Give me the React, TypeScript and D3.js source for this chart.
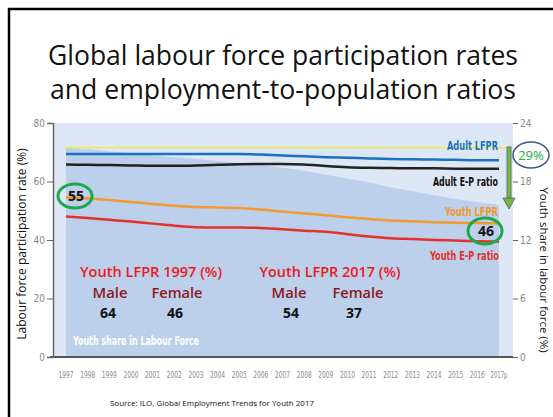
import { useEffect, useRef } from "react";
import { area, axisLeft, axisRight, curveMonotoneX, line, scaleLinear, scalePoint, select } from "d3";

const years = ["1997", "1998", "1999", "2000", "2001", "2002", "2003", "2004", "2005", "2006", "2007",
    "2008", "2009", "2010", "2011", "2012", "2013", "2014", "2015", "2016", "2017p"];
const adultLfpr = [69.4, 69.4, 69.4, 69.4, 69.4, 69.4, 69.4, 69.4, 69.4, 69.2, 68.9, 68.6, 68.3, 68.1, 67.9, 67.7, 67.6, 67.5, 67.4, 67.3, 67.3];
const adultEp = [65.8, 65.7, 65.6, 65.5, 65.4, 65.4, 65.5, 65.7, 65.9, 66.0, 66.0, 65.8, 65.3, 64.9, 64.7, 64.6, 64.5, 64.5, 64.4, 64.4, 64.4];
const youthLfpr = [54.6, 54.2, 53.7, 53.0, 52.3, 51.7, 51.3, 51.1, 50.9, 50.4, 49.7, 49.1, 48.5, 47.8, 47.2, 46.7, 46.4, 46.1, 45.9, 45.8, 45.7];
const youthEp = [48.0, 47.5, 46.9, 46.3, 45.6, 44.9, 44.4, 44.3, 44.3, 44.1, 43.7, 43.2, 42.8, 42.0, 41.2, 40.6, 40.3, 40.0, 39.8, 39.6, 39.5];
const youthShare = [21.5, 21.3, 21.1, 20.9, 20.7, 20.5, 20.3, 20.1, 19.9, 19.7, 19.4, 19.1, 18.7, 18.3, 17.9, 17.4, 17.0, 16.6, 16.2, 15.9, 15.6];
const refLevel = 71.6;
const leftTicks = [0, 20, 40, 60, 80];
const rightTicks = [0, 6, 12, 18, 24];

const narrow = "'Liberation Sans Narrow', 'DejaVu Sans Condensed', 'Liberation Sans', sans-serif";
const body = "'Open Sans', 'Noto Sans', sans-serif";

export default function App() {
    const leftRef = useRef<SVGGElement>(null);
    const rightRef = useRef<SVGGElement>(null);

    const plot = { left: 53, right: 513, top: 123, bottom: 357 };
    const x = scalePoint<string>().domain(years).range([66, 499]);
    const yL = scaleLinear().domain([0, 80]).range([plot.bottom, plot.top]);
    const yR = scaleLinear().domain([0, 24]).range([plot.bottom, plot.top]);

    const mk = (vals: number[]) =>
        line<number>().x((_, i) => x(years[i])!).y((d) => yL(d)).curve(curveMonotoneX)(vals)!;
    const shareArea = area<number>()
        .x((_, i) => x(years[i])!)
        .y0(yR(0))
        .y1((d) => yR(d))(youthShare)!;

    useEffect(() => {
        if (leftRef.current) {
            const g = select(leftRef.current);
            g.call(axisLeft(yL).tickValues(leftTicks).tickSize(6).tickPadding(2));
            g.select(".domain").attr("stroke", "#666").attr("stroke-width", 1.5);
            g.selectAll(".tick line").attr("stroke", "#666");
            g.selectAll(".tick text").attr("fill", "#888").attr("font-family", narrow).attr("font-size", 10);
        }
        if (rightRef.current) {
            const g = select(rightRef.current);
            g.call(axisRight(yR).tickValues(rightTicks).tickSize(5).tickPadding(2));
            g.select(".domain").remove();
            g.selectAll(".tick line").attr("stroke", "#666");
            g.selectAll(".tick text").attr("fill", "#888").attr("font-family", narrow).attr("font-size", 10);
        }
    }, []);

    return (
        <svg width={553} height={417} style={{ position: "absolute", left: 0, top: 0, background: "#fff" }}>
            <rect x={9} y={9} width={620} height={500} fill="none" stroke="#000" strokeWidth={2.5} />
            <text x={283} y={65} textAnchor="middle" fontFamily={body} fontSize={27} fill="#111"
                textLength={470} lengthAdjust="spacingAndGlyphs">Global labour force participation rates</text>
            <text x={283} y={99} textAnchor="middle" fontFamily={body} fontSize={27} fill="#111"
                textLength={466} lengthAdjust="spacingAndGlyphs">and employment-to-population ratios</text>

            <rect x={plot.left} y={plot.top} width={plot.right - plot.left} height={plot.bottom - plot.top} fill="#dde7f5" />
            <path d={shareArea} fill="#bccfeb" />

            <line x1={x(years[0])} x2={510} y1={yL(refLevel)} y2={yL(refLevel)} stroke="#f2ee2a" strokeWidth={1.2} />
            <path d={mk(adultLfpr)} fill="none" stroke="#1b72c2" strokeWidth={2.5} />
            <path d={mk(adultEp)} fill="none" stroke="#222" strokeWidth={2.5} />
            <path d={mk(youthLfpr)} fill="none" stroke="#f4992e" strokeWidth={2.5} />
            <path d={mk(youthEp)} fill="none" stroke="#e8302a" strokeWidth={2.5} />

            <line x1={50} x2={plot.right} y1={plot.bottom} y2={plot.bottom} stroke="#555" strokeWidth={2} />
            <g ref={leftRef} transform={`translate(${plot.left},0)`} />
            <g ref={rightRef} transform={`translate(${plot.right},0)`} />
            {years.map((yr) => (
                <text key={yr} x={x(yr)} y={378} textAnchor="middle" fontFamily={narrow} fontSize={9} fill="#888"
                    textLength={yr.length > 4 ? 17 : 15} lengthAdjust="spacingAndGlyphs">{yr}</text>
            ))}

            <text transform="translate(26,244) rotate(-90)" textAnchor="middle" fontFamily={body} fontSize={12} fill="#111">
                Labour force participation rate (%)</text>
            <text transform="translate(540,270) rotate(90)" textAnchor="middle" fontFamily={body} fontSize={11.5} fill="#111">
                Youth share in labour force (%)</text>

            <g fontFamily={narrow} fontWeight="bold" fontSize={12} textAnchor="end">
                <text x={498} y={150} fill="#1b72c2" textLength={51} lengthAdjust="spacingAndGlyphs">Adult LFPR</text>
                <text x={498} y={186} fill="#111" textLength={65} lengthAdjust="spacingAndGlyphs">Adult E-P ratio</text>
                <text x={498} y={216} fill="#f4992e" textLength={53} lengthAdjust="spacingAndGlyphs">Youth LFPR</text>
                <text x={499} y={260} fill="#e8302a" textLength={69} lengthAdjust="spacingAndGlyphs">Youth E-P ratio</text>
            </g>

            <ellipse cx={75} cy={196} rx={17} ry={12} fill="none" stroke="#1fa84a" strokeWidth={3} />
            <text x={76} y={201} textAnchor="middle" fontFamily={body} fontWeight="bold" fontSize={14} fill="#111">55</text>
            <ellipse cx={485} cy={231} rx={17} ry={13} fill="none" stroke="#1fa84a" strokeWidth={3} />
            <text x={486} y={236} textAnchor="middle" fontFamily={body} fontWeight="bold" fontSize={14} fill="#111">46</text>

            <rect x={507} y={147} width={4} height={52} fill="#77b843" stroke="#4d5d6e" strokeWidth={0.8} />
            <path d="M503,198 L515,198 L509,209 Z" fill="#77b843" stroke="#4d5d6e" strokeWidth={0.8} />
            <ellipse cx={531} cy={155} rx={18} ry={13} fill="#fff" stroke="#3a5a8a" strokeWidth={1.5} />
            <text x={531} y={160} textAnchor="middle" fontFamily={body} fontSize={13} fill="#2aa84a">29%</text>

            <g fontFamily={body} textAnchor="middle" fontWeight={600}>
                <text x={151} y={277} fontSize={15} fill="#f01818" textLength={142} lengthAdjust="spacingAndGlyphs">Youth LFPR 1997 (%)</text>
                <text x={110} y={298} fontSize={14} fill="#8b1a1a" textLength={35} lengthAdjust="spacingAndGlyphs">Male</text>
                <text x={177} y={298} fontSize={14} fill="#8b1a1a" textLength={51} lengthAdjust="spacingAndGlyphs">Female</text>
                <text x={108} y={318} fontSize={14} fontWeight="bold" fill="#111">64</text>
                <text x={175} y={318} fontSize={14} fontWeight="bold" fill="#111">46</text>
                <text x={330} y={277} fontSize={15} fill="#f01818" textLength={141} lengthAdjust="spacingAndGlyphs">Youth LFPR 2017 (%)</text>
                <text x={289} y={298} fontSize={14} fill="#8b1a1a" textLength={35} lengthAdjust="spacingAndGlyphs">Male</text>
                <text x={358} y={298} fontSize={14} fill="#8b1a1a" textLength={51} lengthAdjust="spacingAndGlyphs">Female</text>
                <text x={291} y={318} fontSize={14} fontWeight="bold" fill="#111">54</text>
                <text x={354} y={318} fontSize={14} fontWeight="bold" fill="#111">37</text>
            </g>
            <text x={73} y={345} fontFamily={narrow} fontWeight="bold" fontSize={12} fill="#fff"
                textLength={126} lengthAdjust="spacingAndGlyphs">Youth share in Labour Force</text>

            <text x={110} y={406} fontFamily={body} fontSize={7.5} fill="#111"
                textLength={204} lengthAdjust="spacingAndGlyphs">Source: ILO, Global Employment Trends for Youth 2017</text>
        </svg>
    );
}
